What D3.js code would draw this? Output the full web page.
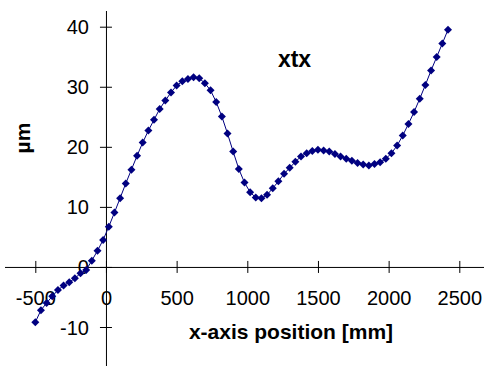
<!DOCTYPE html>
<html>
<head>
<meta charset="utf-8">
<title>xtx</title>
<script src="https://cdn.jsdelivr.net/npm/d3@7/dist/d3.min.js"></script>
<style>
  body { margin: 0; background: #fff; }
  text { font-family: Arial, "Liberation Sans", sans-serif; fill: #000; }
</style>
</head>
<body>
<div id="chart"></div>
<script>
// x-axis position [mm]
const xPos = [-500, -460, -420, -380, -340, -300, -260, -220, -180, -140,
  -100, -60, -20, 20, 60, 100, 140, 180, 220, 260,
  300, 340, 380, 420, 460, 500, 540, 580, 620, 660,
  700, 740, 780, 820, 860, 900, 940, 980, 1020, 1060,
  1100, 1140, 1180, 1220, 1260, 1300, 1340, 1380, 1420, 1460,
  1500, 1540, 1580, 1620, 1660, 1700, 1740, 1780, 1820, 1860,
  1900, 1940, 1980, 2020, 2060, 2100, 2140, 2180, 2220, 2260,
  2300, 2340, 2380, 2420];
// xtx deviation [µm]
const xtx = [-9.2, -7.2, -6.0, -4.9, -3.85, -3.1, -2.55, -1.9, -1.05, -0.5,
  1.05, 2.7, 4.5, 6.7, 9.05, 11.45, 13.9, 16.2, 18.5, 20.7,
  22.7, 24.5, 26.3, 27.7, 29.05, 30.2, 30.9, 31.3, 31.6, 31.4,
  30.6, 29.4, 27.45, 25.05, 22.2, 19.2, 16.3, 14.05, 12.45, 11.55,
  11.45, 12.0, 13.1, 14.25, 15.5, 16.5, 17.5, 18.4, 18.95, 19.3,
  19.5, 19.4, 19.2, 18.8, 18.4, 18.0, 17.7, 17.3, 17.05, 16.9,
  17.15, 17.45, 18.0, 18.95, 20.2, 21.9, 23.8, 25.8, 28.0, 30.3,
  32.7, 34.95, 37.2, 39.5];
const xTicks = [-500, 0, 500, 1000, 1500, 2000, 2500];
const yTicks = [-10, 0, 10, 20, 30, 40];

const width = 484, height = 366;
const navy = "#000080";

const svg = d3.select("#chart").append("svg")
  .attr("width", width)
  .attr("height", height);

const x = d3.scaleLinear().domain([-500, 2500]).range([35.3, 459.3]);
const y = d3.scaleLinear().domain([-10, 40]).range([327, 26.7]);

// plain hyphen for negatives, like the original
const fmt = d => String(d);

// axes cross at the origin
const xAxis = svg.append("g")
  .attr("transform", `translate(0,${y(0)})`)
  .call(d3.axisBottom(x).tickValues(xTicks).tickFormat(fmt));
xAxis.select(".domain").attr("d", `M5,0.5H${width}`).attr("stroke", "#000");
xAxis.selectAll(".tick line").attr("y1", -6).attr("y2", 6).attr("stroke", "#000");
xAxis.selectAll(".tick text")
  .attr("y", 38.5).attr("dy", null)
  .attr("font-size", 20).attr("font-family", null);

const yAxis = svg.append("g")
  .attr("transform", `translate(${x(0)},0)`)
  .call(d3.axisLeft(y).tickValues(yTicks).tickFormat(fmt));
yAxis.select(".domain").attr("d", `M0.5,11V${height}`).attr("stroke", "#000");
yAxis.selectAll(".tick line").attr("x1", -6).attr("x2", 6).attr("stroke", "#000");
yAxis.selectAll(".tick text")
  .attr("x", -17).attr("dy", null).attr("y", 7)
  .attr("font-size", 20).attr("font-family", null);

// titles
svg.append("text")
  .attr("x", 291).attr("y", 339)
  .attr("text-anchor", "middle")
  .attr("font-size", 21).attr("font-weight", "bold")
  .text("x-axis position [mm]");

svg.append("text")
  .attr("transform", "translate(30,138) rotate(-90)")
  .attr("text-anchor", "middle")
  .attr("font-size", 21).attr("font-weight", "bold")
  .text("µm");

svg.append("text")
  .attr("x", 294.5).attr("y", 67)
  .attr("text-anchor", "middle")
  .attr("font-size", 23).attr("font-weight", "bold")
  .text("xtx");

// data
const pts = xPos.map((d, i) => [d, xtx[i]]);

svg.append("path")
  .datum(pts)
  .attr("fill", "none")
  .attr("stroke", navy)
  .attr("stroke-width", 1)
  .attr("d", d3.line().x(d => x(d[0])).y(d => y(d[1])));

svg.selectAll(".pt")
  .data(pts)
  .enter()
  .append("path")
  .attr("class", "pt")
  .attr("transform", d => `translate(${x(d[0])},${y(d[1])})`)
  .attr("d", "M0,-4L4,0L0,4L-4,0Z")
  .attr("fill", navy);
</script>
</body>
</html>
